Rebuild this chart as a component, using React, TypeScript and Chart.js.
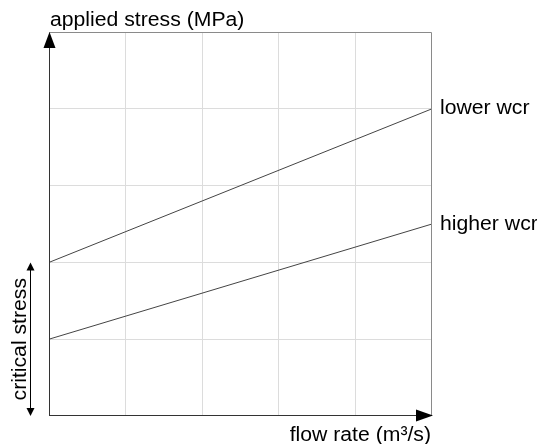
import React, { useEffect, useRef } from "react";
import { Chart, registerables } from "chart.js";

Chart.register(...registerables);

// ---- data ----
const flowRate = [0, 5];
const lowerWcr = [2, 4];
const higherWcr = [1, 2.5];
const seriesLabels = ["lower wcr", "higher wcr"];
const axisMin = 0;
const axisMax = 5;
const yTitle = "applied stress (MPa)";
const xTitle = "flow rate (m³/s)";
const criticalLabel = "critical stress";
const criticalRange = [0, 2];

const FONT = "20px 'Liberation Sans', Arial, sans-serif";
const SX = 1.06;

function text(ctx: CanvasRenderingContext2D, s: string, x: number, y: number, align: CanvasTextAlign, baseline: CanvasTextBaseline, rot = 0) {
  ctx.save();
  ctx.translate(x, y);
  if (rot) ctx.rotate(rot);
  ctx.scale(SX, 1);
  ctx.font = FONT;
  ctx.fillStyle = "#000";
  ctx.textAlign = align;
  ctx.textBaseline = baseline;
  ctx.fillText(s, 0, 0);
  ctx.restore();
}

function tri(ctx: CanvasRenderingContext2D, pts: number[][]) {
  ctx.beginPath();
  ctx.moveTo(pts[0][0], pts[0][1]);
  for (let i = 1; i < pts.length; i++) ctx.lineTo(pts[i][0], pts[i][1]);
  ctx.closePath();
  ctx.fill();
}

const decor = {
  id: "decor",
  afterDraw(chart: any) {
    const ctx: CanvasRenderingContext2D = chart.ctx;
    const { left, right, top, bottom } = chart.chartArea;
    const ys = chart.scales.y;
    ctx.save();
    // top & right border
    ctx.strokeStyle = "#8a8a8a";
    ctx.lineWidth = 1;
    ctx.beginPath();
    ctx.moveTo(left, top + 0.5);
    ctx.lineTo(right - 0.5, top + 0.5);
    ctx.lineTo(right - 0.5, bottom);
    ctx.stroke();
    // axes
    ctx.strokeStyle = "#333";
    ctx.beginPath();
    ctx.moveTo(left + 0.5, bottom);
    ctx.lineTo(left + 0.5, top + 10);
    ctx.moveTo(left, bottom - 0.5);
    ctx.lineTo(right - 10, bottom - 0.5);
    ctx.stroke();
    ctx.fillStyle = "#000";
    tri(ctx, [[left + 0.5, top], [left - 5.5, top + 16], [left + 6.5, top + 16]]);
    tri(ctx, [[right + 1, bottom - 0.5], [right - 16, bottom - 6.5], [right - 16, bottom + 5.5]]);

    // critical stress double arrow
    const cx = 30.5;
    const cTop = ys.getPixelForValue(criticalRange[1]);
    const cBot = ys.getPixelForValue(criticalRange[0]);
    ctx.strokeStyle = "#000";
    ctx.beginPath();
    ctx.moveTo(cx, cTop + 6);
    ctx.lineTo(cx, cBot - 6);
    ctx.stroke();
    tri(ctx, [[cx, cTop], [cx - 4, cTop + 8], [cx + 4, cTop + 8]]);
    tri(ctx, [[cx, cBot], [cx - 4, cBot - 8], [cx + 4, cBot - 8]]);

    // texts
    text(ctx, yTitle, left + 1, top - 6, "left", "alphabetic");
    text(ctx, xTitle, right - 1, bottom + 25, "right", "alphabetic");
    text(ctx, seriesLabels[0], right + 8, ys.getPixelForValue(lowerWcr[lowerWcr.length - 1]), "left", "middle");
    text(ctx, seriesLabels[1], right + 8, ys.getPixelForValue(higherWcr[higherWcr.length - 1]), "left", "middle");
    text(ctx, criticalLabel, 26, (cTop + cBot) / 2, "center", "alphabetic", -Math.PI / 2);
    ctx.restore();
  },
};

export default function App() {
  const ref = useRef<HTMLCanvasElement>(null);
  useEffect(() => {
    if (!ref.current) return;
    const gridColor = (c: any) => (c.tick && (c.tick.value === axisMin || c.tick.value === axisMax) ? "rgba(0,0,0,0)" : "#dcdcdc");
    const chart = new Chart(ref.current, {
      type: "line",
      data: {
        datasets: [
          {
            label: seriesLabels[0],
            data: flowRate.map((x, i) => ({ x, y: lowerWcr[i] })),
            borderColor: "#444",
            borderWidth: 1,
            pointRadius: 0,
            fill: false,
          },
          {
            label: seriesLabels[1],
            data: flowRate.map((x, i) => ({ x, y: higherWcr[i] })),
            borderColor: "#444",
            borderWidth: 1,
            pointRadius: 0,
            fill: false,
          },
        ],
      },
      options: {
        animation: false,
        responsive: true,
        maintainAspectRatio: false,
        layout: { padding: { left: 49, right: 105, top: 32, bottom: 28 } },
        plugins: { legend: { display: false }, tooltip: { enabled: false } },
        scales: {
          x: {
            type: "linear",
            min: axisMin,
            max: axisMax,
            ticks: { display: false, stepSize: 1 },
            grid: { color: gridColor, drawTicks: false, lineWidth: 1 },
            border: { display: false },
          },
          y: {
            type: "linear",
            min: axisMin,
            max: axisMax,
            ticks: { display: false, stepSize: 1 },
            grid: { color: gridColor, drawTicks: false, lineWidth: 1 },
            border: { display: false },
          },
        },
      },
      plugins: [decor],
    });
    return () => chart.destroy();
  }, []);
  return (
    <div style={{ position: "fixed", left: 0, top: 0, width: 537, height: 444, background: "#fff" }}>
      <canvas ref={ref} />
    </div>
  );
}
